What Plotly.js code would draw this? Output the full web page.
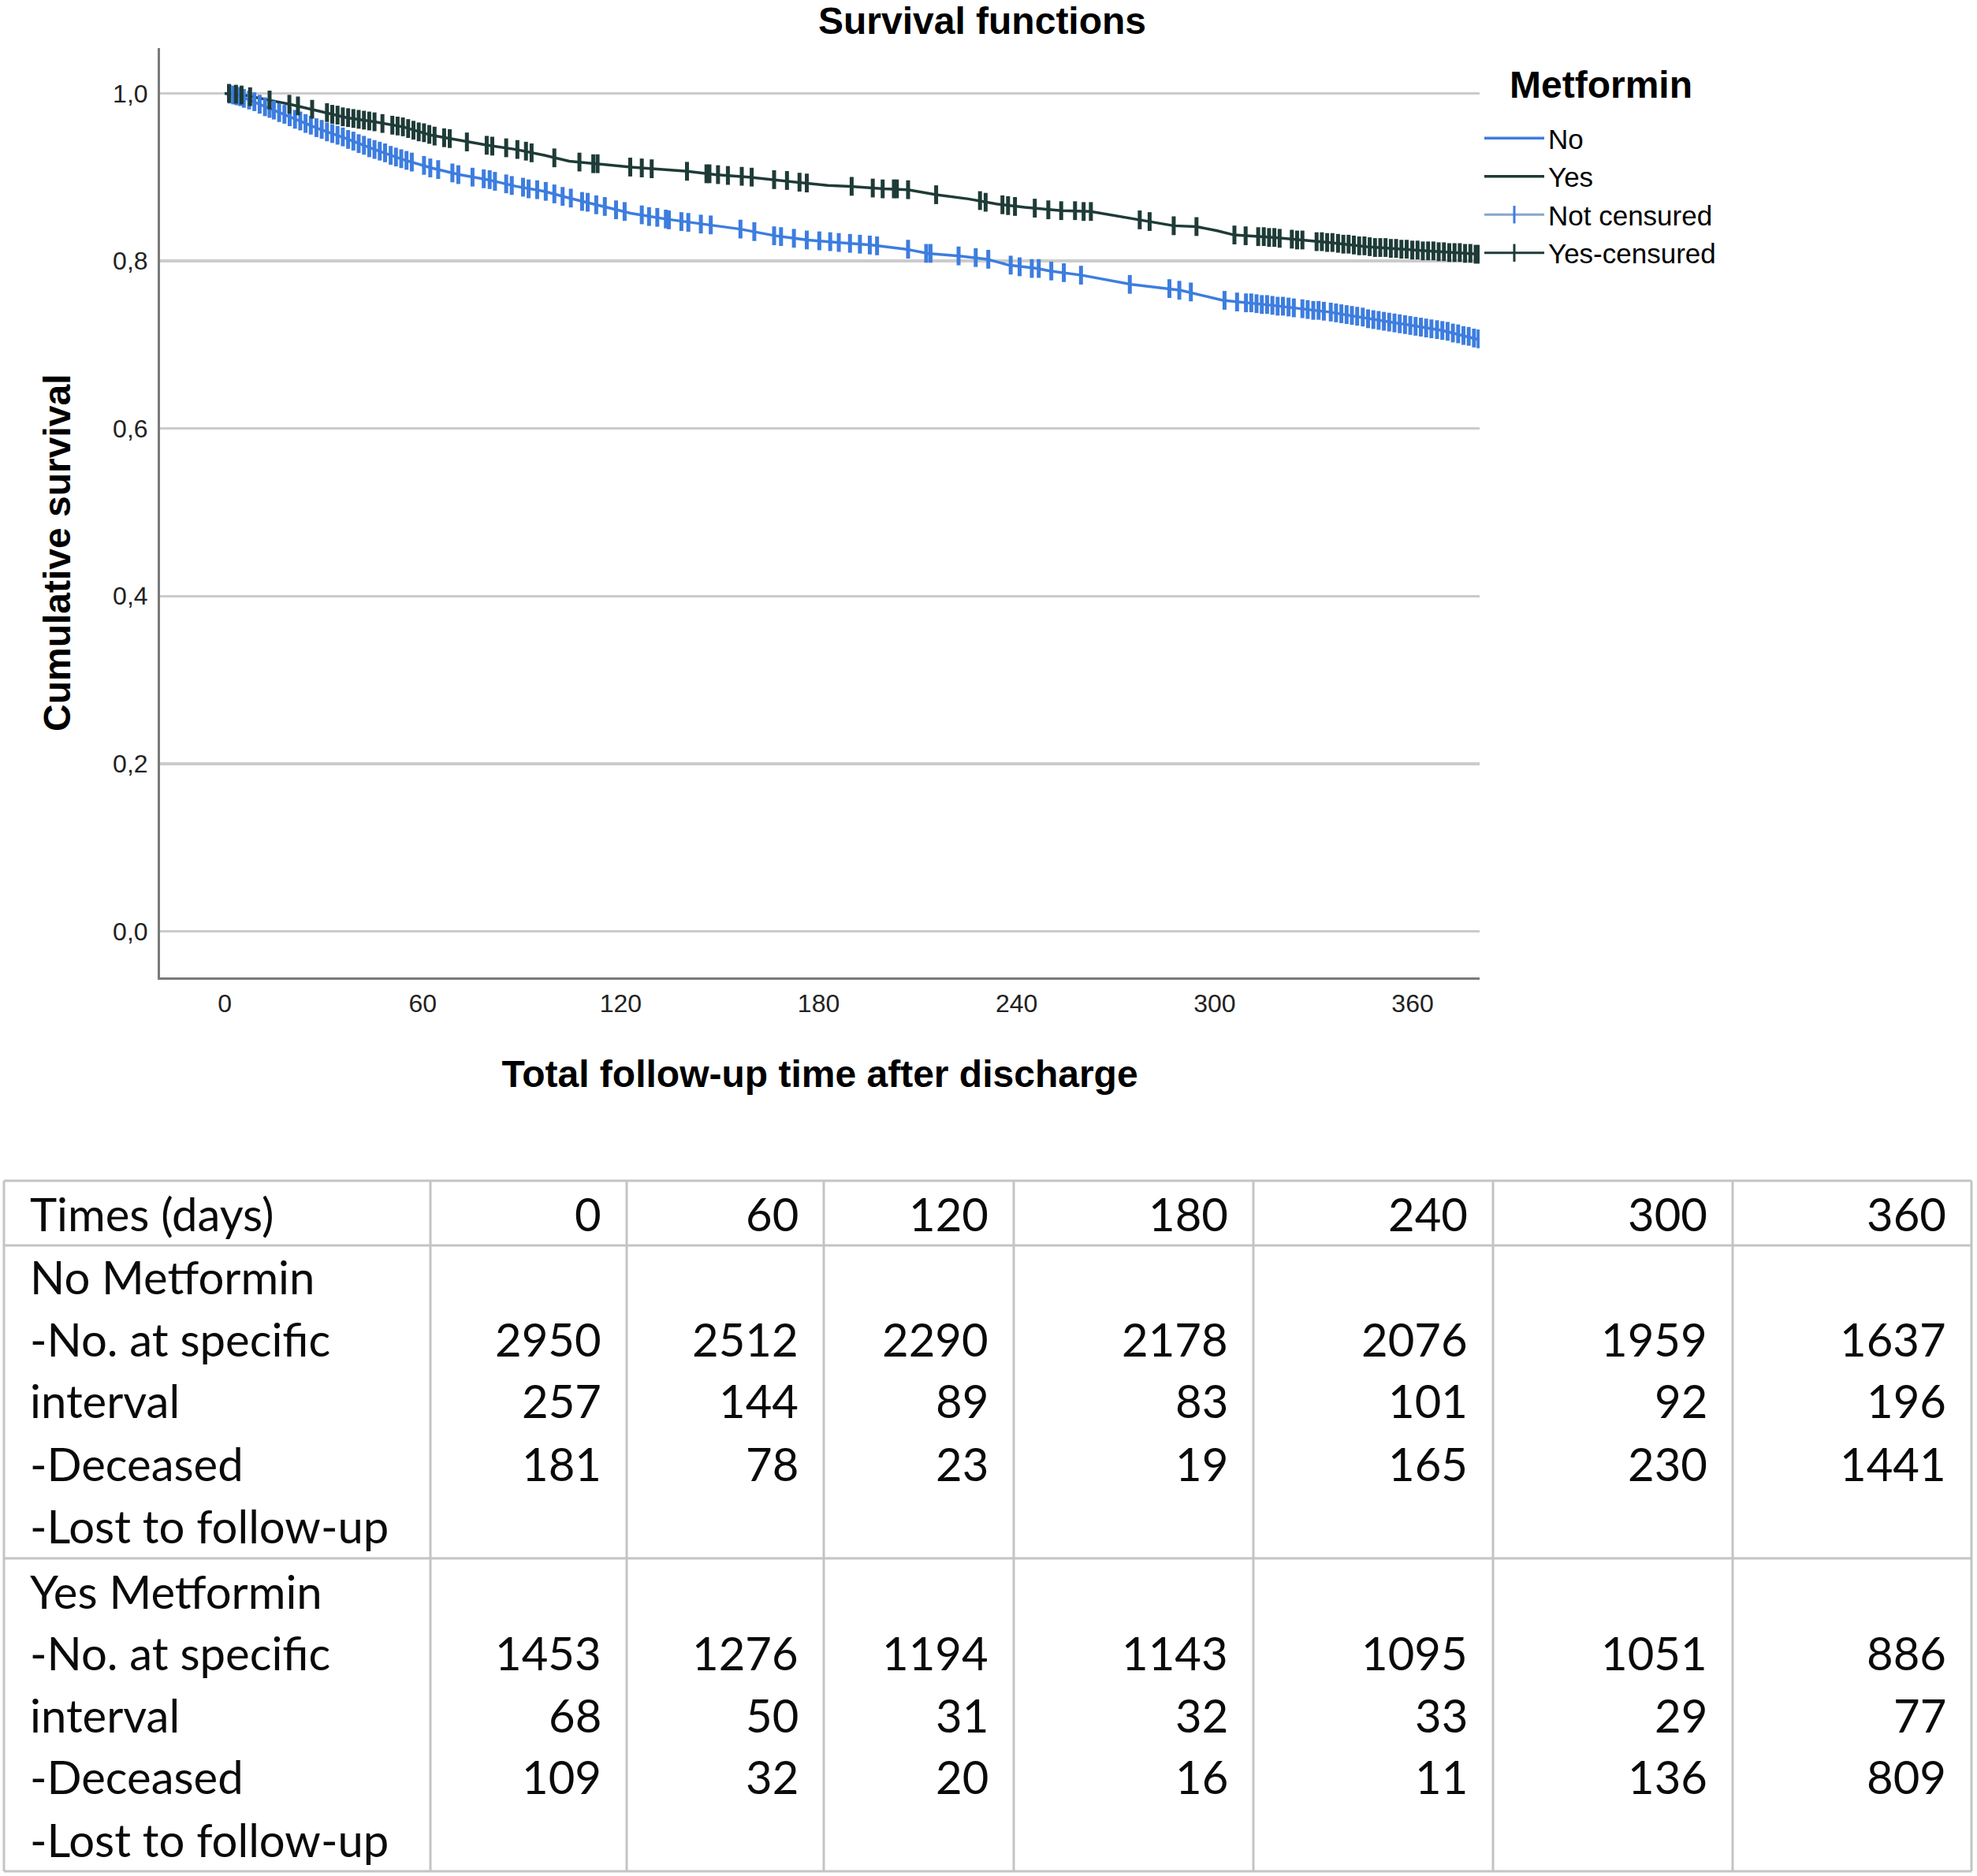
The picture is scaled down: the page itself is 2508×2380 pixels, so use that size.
<!DOCTYPE html>
<html><head><meta charset="utf-8">
<script src="https://cdn.plot.ly/plotly-3.0.1.min.js"></script>
<style>html,body{margin:0;padding:0;background:#fff}#chart{width:2508px;height:2380px}</style>
</head><body><div id="chart"></div>
<script>
// ---------- DATA ----------
const noTime = [0,3.6,6.9,11.1,19.7,28.3,36.9,45.4,54,62.6,71.1,79.7,88.3,96.9,104.4,112.9,123,133.7,144.4,156.2,166.9,176.6,186.2,195.9,206.6,213,222.6,231.2,237.6,246.2,250,254.5,259.7,274.7,289.7,302.5,317.5,334.7,351.8,369,380.2];
const noSurv = [1.000,0.997,0.993,0.986,0.972,0.958,0.946,0.933,0.921,0.911,0.903,0.897,0.889,0.883,0.875,0.867,0.857,0.850,0.844,0.838,0.830,0.825,0.822,0.819,0.814,0.809,0.806,0.802,0.795,0.791,0.788,0.786,0.783,0.772,0.765,0.753,0.747,0.739,0.728,0.717,0.706];

const yesTime = [0,5.8,13.3,19.7,29.4,36.9,45.4,54,62.6,71.1,79.7,88.3,96.9,104.4,112.9,123,140.1,148.6,158.9,166.5,174.2,182.8,189.6,199.8,207.1,215.6,225.4,233.9,242.5,249.6,253.6,262.4,271,277.4,287.6,294.4,300.8,305.9,317.9,335,346.1,360.6,380.2];
const yesSurv = [1.000,0.998,0.992,0.987,0.978,0.971,0.966,0.960,0.950,0.944,0.938,0.933,0.926,0.919,0.916,0.912,0.907,0.903,0.900,0.897,0.894,0.890,0.889,0.886,0.885,0.879,0.874,0.868,0.864,0.861,0.860,0.859,0.853,0.849,0.842,0.841,0.836,0.831,0.828,0.822,0.817,0.813,0.808];

const noCensT = [1.5,2.6,3.6,4.7,5.8,7.4,9.0,10.6,12.2,13.6,14.9,16.5,18.1,19.7,21.3,22.9,24.5,26.1,27.8,29.4,31.0,32.6,34.2,35.8,37.4,39.0,40.6,42.2,43.8,45.4,47.0,48.6,50.3,51.9,53.5,55.1,56.7,
 60.4,62.3,64.7,69.0,70.8,75.1,78.5,80.3,81.9,85.3,87.0,90.4,92.1,94.7,97.3,99.9,102.4,104.9,108.3,110.0,112.6,115.2,118.6,121.2,
 126.4,128.6,131.1,133.7,134.6,138.4,140.5,144.3,147.3,156.3,160.5,166.5,168.6,172.5,176.4,180.2,183.5,186.1,189.5,192.5,195.5,197.7,207.1,212.6,213.9,222.4,227.6,231.4,238.2,240.9,244.6,246.7,
 250.5,254.3,259.5,274.3,286.3,289.3,292.8,303.0,306.8,
 309.5,311.1,312.7,314.3,315.9,317.5,319.1,320.7,322.4,324.0,326.6,328.2,329.9,331.5,333.1,335.2,336.8,338.4,340.0,341.6,343.2,344.9,346.5,348.1,349.7,351.3,352.9,354.5,356.1,357.7,359.3,360.9,362.5,364.1,365.7,367.4,369.0,370.6,372.2,373.8,375.4,377.0,378.6,380.0];
const noCensS = [0.999,0.998,0.997,0.996,0.994,0.992,0.990,0.987,0.984,0.982,0.980,0.977,0.975,0.972,0.969,0.967,0.964,0.962,0.959,0.957,0.954,0.952,0.950,0.948,0.945,0.943,0.940,0.938,0.935,0.933,0.931,0.929,0.926,0.924,0.922,0.920,0.918,
 0.914,0.911,0.909,0.905,0.903,0.900,0.898,0.897,0.895,0.892,0.890,0.888,0.886,0.885,0.883,0.880,0.877,0.875,0.871,0.870,0.867,0.865,0.861,0.859,
 0.855,0.853,0.852,0.850,0.849,0.847,0.846,0.844,0.843,0.838,0.835,0.830,0.829,0.827,0.825,0.824,0.823,0.822,0.821,0.820,0.819,0.818,0.814,0.809,0.809,0.806,0.804,0.802,0.795,0.793,0.791,0.791,
 0.788,0.786,0.783,0.772,0.767,0.765,0.763,0.753,0.751,
 0.750,0.750,0.749,0.748,0.748,0.747,0.746,0.746,0.745,0.744,0.743,0.742,0.741,0.741,0.740,0.739,0.738,0.737,0.736,0.735,0.734,0.733,0.731,0.730,0.729,0.728,0.727,0.726,0.725,0.724,0.723,0.722,0.721,0.720,0.719,0.718,0.717,0.716,0.714,0.713,0.711,0.710,0.708,0.707];

const yesCensT = [1.3,3.4,5.1,7.7,13.6,19.6,22.2,26.5,31.0,32.6,34.2,35.8,37.4,39.0,40.6,42.2,43.8,45.4,47.8,50.8,52.4,54.0,55.6,57.2,58.8,60.4,62.0,63.6,
 66.5,68.2,73.4,79.4,81.1,85.3,88.7,91.3,93.0,99.9,107.5,111.7,113.0,122.9,
 126.4,129.4,140.1,146.0,146.9,149.5,152.5,156.7,159.7,166.5,170.4,174.2,176.4,190.0,196.4,199.4,202.8,203.7,207.1,215.6,228.9,230.6,235.7,237.4,239.5,245.5,
 249.6,253.5,257.7,260.3,262.5,277.3,280.3,287.6,294.5,306.0,309.4,313.2,314.9,316.5,318.1,319.7,323.4,325.0,326.6,
 330.9,332.5,334.1,335.7,337.4,339.0,340.6,342.2,343.8,345.4,347.0,348.6,350.2,351.8,353.4,355.0,356.6,358.2,359.9,361.5,363.1,364.7,366.3,367.9,369.5,371.1,372.7,374.3,375.9,377.5,379.1,380.1];
const yesCensS = [1.000,0.999,0.998,0.996,0.992,0.987,0.985,0.981,0.977,0.975,0.974,0.972,0.971,0.970,0.969,0.968,0.967,0.966,0.964,0.962,0.961,0.960,0.958,0.956,0.954,0.953,0.951,0.949,
 0.947,0.946,0.942,0.938,0.937,0.935,0.933,0.931,0.929,0.923,0.918,0.916,0.916,0.912,
 0.911,0.910,0.907,0.904,0.904,0.903,0.902,0.901,0.900,0.897,0.896,0.894,0.893,0.889,0.887,0.886,0.886,0.886,0.885,0.879,0.872,0.870,0.867,0.866,0.865,0.863,
 0.861,0.860,0.860,0.859,0.859,0.849,0.847,0.842,0.841,0.831,0.830,0.829,0.829,0.828,0.828,0.827,0.826,0.825,0.825,
 0.823,0.823,0.822,0.822,0.821,0.820,0.820,0.819,0.818,0.818,0.817,0.816,0.816,0.816,0.815,0.815,0.814,0.814,0.813,0.813,0.812,0.812,0.812,0.811,0.811,0.810,0.810,0.810,0.809,0.809,0.808,0.808];

const yTicks = [0,0.2,0.4,0.6,0.8,1.0];
const tableTimes = [0,60,120,180,240,300,360];
const noAtRisk = [2950,2512,2290,2178,2076,1959,1637];
const noDeceased = [257,144,89,83,101,92,196];
const noLost = [181,78,23,19,165,230,1441];
const yesAtRisk = [1453,1276,1194,1143,1095,1051,886];
const yesDeceased = [68,50,31,32,33,29,77];
const yesLost = [109,32,20,16,11,136,809];
const headerLabel = 'Times (days)';
const noLines = ['No Metformin','-No. at specific','interval','-Deceased','-Lost to follow-up'];
const yesLines = ['Yes Metformin','-No. at specific','interval','-Deceased','-Lost to follow-up'];

// ---------- LAYOUT GEOMETRY ----------
const W = 2508, H = 2380;
const M = {l:203, r:631, t:61, b:1140};
const PW = W - M.l - M.r, PH = H - M.t - M.b;
const px = x => (x - M.l) / PW;
const py = y => (H - M.b - y) / PH;

const BLUE = '#3d7ddf', DARK = '#1e3b37';
const AX = 'Liberation Sans, Arial, sans-serif';
const TF = 'Lato, Carlito, sans-serif';

const colEdges = [5,546,795,1045,1286,1590,1894,2198,2501];
const rowEdges = [1498,1580,1977,2374];
const headerY = 1539;
const blockY = [[1619,1698,1776,1856,1935],[2018,2096,2175,2253,2333]];
const padL = 31, padR = 30;
const tableFont = {family: TF, size: 58, color: '#0a0a0a'};
const gridCol = '#c4c4c4';

const shapes = [];
rowEdges.forEach(y => shapes.push({type:'line', xref:'paper', yref:'paper', x0:px(colEdges[0]), x1:px(colEdges[colEdges.length-1]), y0:py(y), y1:py(y), line:{color:gridCol, width:3}}));
colEdges.forEach(x => shapes.push({type:'line', xref:'paper', yref:'paper', x0:px(x), x1:px(x), y0:py(rowEdges[0]), y1:py(rowEdges[rowEdges.length-1]), line:{color:gridCol, width:3}}));

const annotations = [];
function addText(text, x, y, anchor){
  annotations.push({text:String(text), xref:'paper', yref:'paper', x:px(x), y:py(y), xanchor:anchor, yanchor:'middle', showarrow:false, font:tableFont});
}
addText(headerLabel, colEdges[0]+padL, headerY, 'left');
tableTimes.forEach((t,i) => addText(t, colEdges[i+2]-padR, headerY, 'right'));
[[noLines,noAtRisk,noDeceased,noLost],[yesLines,yesAtRisk,yesDeceased,yesLost]].forEach((blk,b) => {
  const [lines, risk, dec, lost] = blk;
  lines.forEach((l,k) => addText(l, colEdges[0]+padL, blockY[b][k], 'left'));
  tableTimes.forEach((t,i) => {
    const xr = colEdges[i+2]-padR;
    addText(risk[i], xr, blockY[b][1], 'right');
    addText(dec[i], xr, blockY[b][2], 'right');
    addText(lost[i], xr, blockY[b][3], 'right');
  });
});
// y-axis title (placed as in the reference, slightly below the axis centre)
annotations.push({text:'Cumulative survival', textangle:-90, xref:'paper', yref:'paper', x:px(72), y:py(701), xanchor:'center', yanchor:'middle', showarrow:false, font:{family:AX, size:48, weight:'bold', color:'#000'}});
// legend title
annotations.push({text:'Metformin', xref:'paper', yref:'paper', x:px(2031), y:py(107), xanchor:'center', yanchor:'middle', showarrow:false, font:{family:AX, size:48, weight:'bold', color:'#000'}});

// ---------- TRACES ----------
const censMarker = c => ({symbol:'line-ns-open', size:17, color:c, line:{color:c, width:5}});
const traces = [
  {x:noTime, y:noSurv, type:'scatter', mode:'lines', name:'No', line:{color:BLUE, width:3.5}, hoverinfo:'skip'},
  {x:yesTime, y:yesSurv, type:'scatter', mode:'lines', name:'Yes', line:{color:DARK, width:3.5}, hoverinfo:'skip'},
  {x:[null], y:[null], type:'scatter', mode:'lines+markers', name:'Not censured', line:{color:'#86a6cf', width:3}, marker:{symbol:'line-ns-open', size:16, color:BLUE, line:{color:BLUE, width:3}}},
  {x:[null], y:[null], type:'scatter', mode:'lines+markers', name:'Yes-censured', line:{color:DARK, width:3}, marker:{symbol:'line-ns-open', size:16, color:DARK, line:{color:DARK, width:3}}},
  {x:noCensT, y:noCensS, type:'scatter', mode:'markers', name:'Not censured', showlegend:false, marker:censMarker(BLUE), hoverinfo:'skip'},
  {x:yesCensT, y:yesCensS, type:'scatter', mode:'markers', name:'Yes-censured', showlegend:false, marker:censMarker(DARK), hoverinfo:'skip'}
];

const layout = {
  width:W, height:H, margin:M, paper_bgcolor:'#fff', plot_bgcolor:'#fff',
  separators:',.',
  font:{family:AX, color:'#000'},
  showlegend:true,
  title:{text:'Survival functions', font:{family:AX, size:48, weight:'bold', color:'#000'}, xref:'container', x:1246/W, xanchor:'center', yref:'container', y:1-26/H, yanchor:'middle'},
  xaxis:{range:[-19.6,380.3], tickvals:tableTimes, showgrid:false, zeroline:false, showline:true, linecolor:'#7a7a7a', linewidth:3, ticks:'', tickfont:{family:AX, size:32, color:'#222'}, ticklabelstandoff:3, automargin:false,
    title:{text:'Total follow-up time after discharge', font:{family:AX, size:48, weight:'bold', color:'#000'}, standoff:55}},
  yaxis:{range:[-0.055,1.054], tickvals:yTicks, tickformat:'.1f', showgrid:true, gridcolor:'#cbcbcb', gridwidth:3.5, zeroline:false, showline:true, linecolor:'#7a7a7a', linewidth:3, ticks:'', tickfont:{family:AX, size:32, color:'#222'}, ticklabelstandoff:6, automargin:false},
  legend:{x:px(1878), xanchor:'left', y:py(146), yanchor:'top', font:{family:AX, size:35, color:'#000'}, itemwidth:76, bgcolor:'rgba(0,0,0,0)', borderwidth:0, traceorder:'normal'},
  shapes:shapes,
  annotations:annotations
};

Plotly.newPlot('chart', traces, layout, {displayModeBar:false, staticPlot:true});
</script>
</body></html>
